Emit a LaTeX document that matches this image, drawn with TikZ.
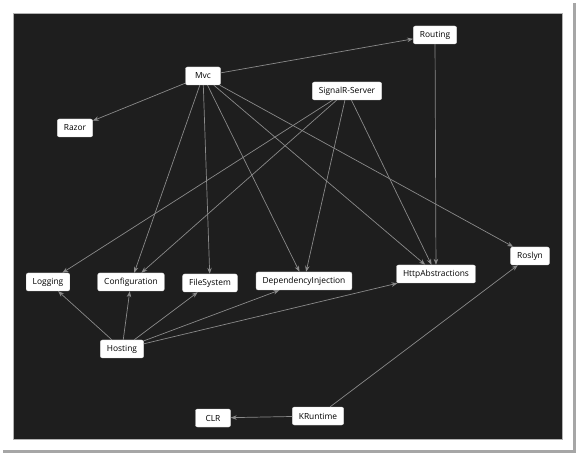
\documentclass[tikz,border=0pt]{standalone}
\usepackage{fontspec}
\setmainfont{Open Sans}
\usetikzlibrary{arrows.meta}
\definecolor{bgdark}{HTML}{1E1E1E}
\definecolor{edgegray}{HTML}{8A8A8A}
\tikzset{
  pkg/.style={draw=white!85!black, line width=0.4pt, fill=white, rounded corners=2pt, text=black,
    font=\fontsize{8.4}{9}\selectfont, minimum height=18pt, minimum width=35pt, inner xsep=6.5pt, inner ysep=0pt},
  dep/.style={draw=edgegray, line width=0.7pt, -{Stealth[length=6pt,width=4.5pt]}}
}
\begin{document}
\begin{tikzpicture}[x=1pt,y=-1pt]
\useasboundingbox (0,0) rectangle (579,457);
\fill[white] (0,0) rectangle (579,457);
% shadow
\fill[gray!70] (572,3) rectangle (576,453);
\fill[gray!70] (3,450) rectangle (576,453);
\fill[white] (0,0) rectangle (573,450);
\draw[fill=bgdark, draw=gray!60, line width=0.6pt] (13,13) rectangle (562,439);

\node[pkg] (routing) at (435,35) {Routing};
\node[pkg] (mvc) at (203,76) {Mvc};
\node[pkg] (signalr) at (347,91) {SignalR-Server};
\node[pkg] (razor) at (75,128) {Razor};
\node[pkg] (logging) at (48,282) {Logging};
\node[pkg] (config) at (131,282) {Configuration};
\node[pkg] (fs) at (210,283) {FileSystem};
\node[pkg] (di) at (304,281) {DependencyInjection};
\node[pkg] (http) at (436,274) {HttpAbstractions};
\node[pkg] (roslyn) at (530,256) {Roslyn};
\node[pkg] (hosting) at (122,349) {Hosting};
\node[pkg] (clr) at (213,418) {CLR};
\node[pkg] (kruntime) at (318,416) {KRuntime};

\draw[dep] (mvc) -- (routing);
\draw[dep] (mvc) -- (razor);
\draw[dep] (mvc) -- (config);
\draw[dep] (mvc) -- (fs);
\draw[dep] (mvc) -- (di);
\draw[dep] (mvc) -- (http);
\draw[dep] (mvc) -- (roslyn);
\draw[dep] (signalr) -- (logging);
\draw[dep] (signalr) -- (config);
\draw[dep] (signalr) -- (di);
\draw[dep] (signalr) -- (http);
\draw[dep] (routing) -- (http);
\draw[dep] (hosting) -- (logging);
\draw[dep] (hosting) -- (config);
\draw[dep] (hosting) -- (fs);
\draw[dep] (hosting) -- (di);
\draw[dep] (hosting) -- (http);
\draw[dep] (kruntime) -- (clr);
\draw[dep] (kruntime) -- (roslyn);
\end{tikzpicture}
\end{document}
